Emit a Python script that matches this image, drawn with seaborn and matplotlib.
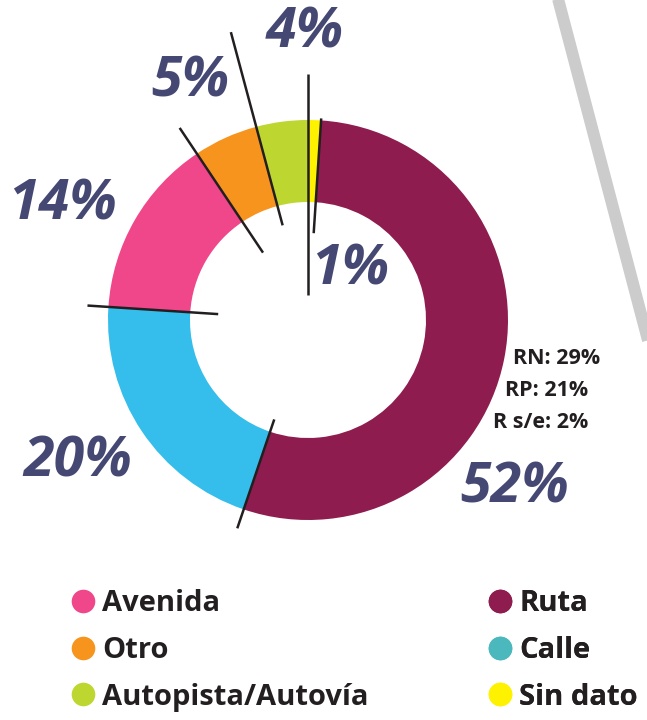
import numpy as np
import matplotlib.pyplot as plt
import seaborn as sns
from matplotlib.lines import Line2D


#  datos
categorias = ['Sin dato', 'Ruta', 'Calle', 'Avenida', 'Otro', 'Autopista/Autovía']
porcentajes = [1, 52, 20, 14, 5, 4]
colores_anillo = ['#FFF200', '#8E1C4E', '#35BDEB', '#F0468A', '#F7941E', '#BED730']
colores_leyenda = ['#FFF200', '#8E1C4E', '#4BB8BE', '#F0468A', '#F7941E', '#BED730']

ruta_tipos = ['RN', 'RP', 'R s/e']
ruta_porcentajes = [29, 21, 2]

leyenda_izq = ['Avenida', 'Otro', 'Autopista/Autovía']
leyenda_der = ['Ruta', 'Calle', 'Sin dato']


sns.set_theme(style='white')
plt.rcParams['font.family'] = ['Open Sans', 'DejaVu Sans']

W, H = 647, 720
fig = plt.figure(figsize=(W / 100, H / 100), dpi=100)
ax = fig.add_axes([0, 0, 1, 1])

# todo en pixeles, y hacia arriba
cx, cy = 308, H - 320
R, ancho = 200, 82

ax.pie(porcentajes, colors=colores_anillo, startangle=90, counterclock=False,
       radius=R, center=(cx, cy), wedgeprops=dict(width=ancho, edgecolor='none'))

# lineas divisorias en el inicio de cada sector
inicio = np.concatenate([[0], np.cumsum(porcentajes)[:-1]]) / np.sum(porcentajes)
radios_linea = [(25, 246), (87, 202), (105, 220), (90, 221), (81, 231), (98, 298)]
for frac, (r0, r1) in zip(inicio, radios_linea):
    ang = np.deg2rad(90 - 360 * frac)
    ax.plot([cx + r0 * np.cos(ang), cx + r1 * np.cos(ang)],
            [cy + r0 * np.sin(ang), cy + r1 * np.sin(ang)],
            color='#231F20', lw=1.8, solid_capstyle='butt', zorder=3)

# etiquetas de porcentaje
pos_etiquetas = [(350, 270), (515, 488), (78, 462), (62, 205), (190, 82), (305, 33)]
for p, (x, y) in zip(porcentajes, pos_etiquetas):
    ax.text(x, H - y, f'{p}%', ha='center', va='center', fontsize=40,
            fontweight='bold', fontstyle='italic', color='#454873')

# detalle de rutas
pos_rutas = [(600, 359), (588, 391), (588, 423)]
for t, v, (x, y) in zip(ruta_tipos, ruta_porcentajes, pos_rutas):
    ax.text(x, H - y, f'{t}: {v}%', ha='right', va='center', fontsize=15.5,
            fontweight='bold', color='#231F20')

# linea gris decorativa
ax.plot([557, 650], [H + 5, H - 348], color='#CCCCCC', lw=8.6, solid_capstyle='butt', zorder=0)

# leyenda en dos columnas
color_de = dict(zip(categorias, colores_leyenda))


def manejadores(nombres):
    return [Line2D([], [], ls='none', marker='o', markersize=17,
                   markerfacecolor=color_de[n], markeredgecolor='none') for n in nombres]


for nombres, x0 in [(leyenda_izq, 68), (leyenda_der, 485)]:
    leg = ax.legend(manejadores(nombres), nombres, loc='upper left',
                    bbox_to_anchor=(x0, H - 589), bbox_transform=ax.transData,
                    frameon=False, borderpad=0, borderaxespad=0, handlelength=1,
                    handletextpad=0.18, labelspacing=0.61,
                    prop=dict(size=21, weight='bold'))
    for t in leg.get_texts():
        t.set_color('#231F20')
    ax.add_artist(leg)

ax.set_xlim(0, W)
ax.set_ylim(0, H)
ax.set_aspect('equal')
ax.axis('off')

plt.savefig('out.png', dpi=100)
